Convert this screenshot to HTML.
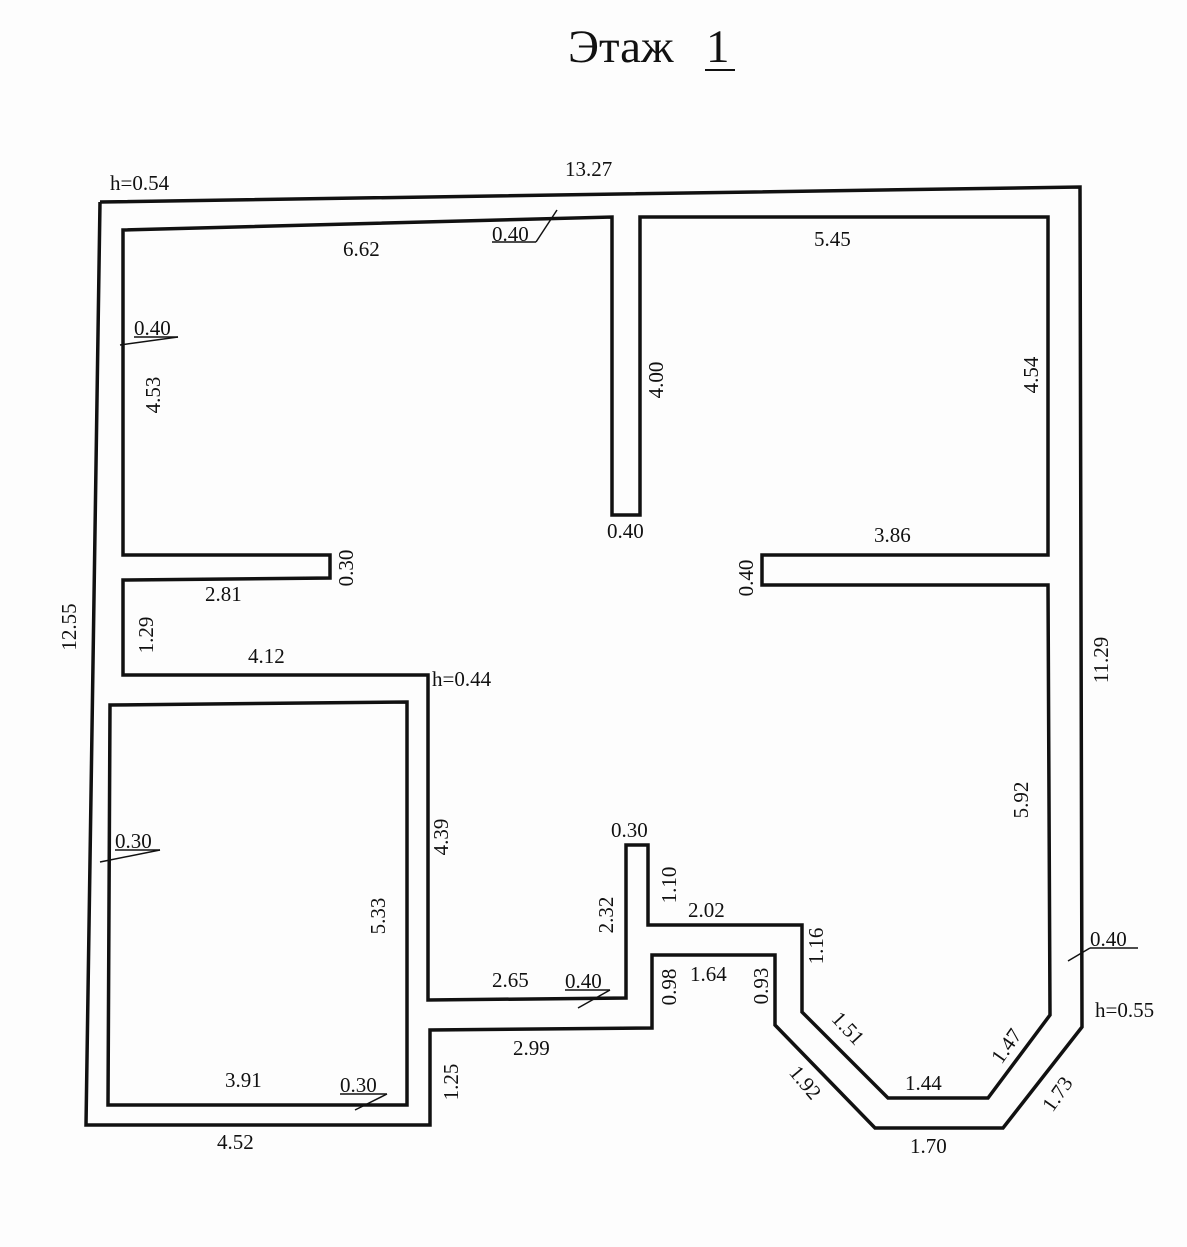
<!DOCTYPE html>
<html><head><meta charset="utf-8"><style>
html,body{margin:0;padding:0;background:#fdfdfd;}
svg{display:block;}
text{font-family:"Liberation Serif",serif;font-size:21px;fill:#111;}
</style></head><body>
<svg width="1187" height="1247" viewBox="0 0 1187 1247" xmlns="http://www.w3.org/2000/svg">
<rect width="1187" height="1247" fill="#fdfdfd"/>
<text x="568" y="62" style="font-size:47px">Этаж</text>
<text x="706" y="62" style="font-size:47px">1</text>
<line x1="705" y1="70" x2="735" y2="70" stroke="#111" stroke-width="2"/>
<g fill="none" stroke="#111" stroke-width="3.5" stroke-linejoin="miter">
<polyline points="100,202 1080,187 1082,1027 1003,1128 875,1128 775,1025 775,955 652,955 652,1028 430,1030 430,1125 86,1125 100,202"/>
<polygon points="123,555 330,555 330,578 123,580 123,675 428,675 428,1000 626,998 626,845 648,845 648,925 802,925 802,1012 888,1098 988,1098 1050,1015 1048,585 762,585 762,555 1048,555 1048,217 640,217 640,515 612,515 612,217 123,230"/>
<polygon points="110,705 407,702 407,1105 108,1105"/>
</g>
<g stroke="#111" stroke-width="1.5" fill="none">
<line x1="492" y1="242" x2="536" y2="242"/><line x1="536" y1="242" x2="557" y2="210"/>
<line x1="134" y1="337" x2="178" y2="337"/><line x1="178" y1="337" x2="120" y2="345"/>
<line x1="115" y1="850" x2="160" y2="850"/><line x1="160" y1="850" x2="100" y2="862"/>
<line x1="340" y1="1094" x2="387" y2="1094"/><line x1="387" y1="1094" x2="355" y2="1110"/>
<line x1="565" y1="990" x2="610" y2="990"/><line x1="610" y1="990" x2="578" y2="1008"/>
<line x1="1090" y1="948" x2="1138" y2="948"/><line x1="1090" y1="948" x2="1068" y2="961"/>
</g>
<text x="110" y="190">h=0.54</text>
<text x="565" y="176">13.27</text>
<text x="343" y="256">6.62</text>
<text x="492" y="241">0.40</text>
<text x="814" y="246">5.45</text>
<text x="134" y="335">0.40</text>
<text x="607" y="538">0.40</text>
<text x="874" y="542">3.86</text>
<text x="205" y="601">2.81</text>
<text x="248" y="663">4.12</text>
<text x="432" y="686">h=0.44</text>
<text x="611" y="837">0.30</text>
<text x="115" y="848">0.30</text>
<text x="688" y="917">2.02</text>
<text x="690" y="981">1.64</text>
<text x="492" y="987">2.65</text>
<text x="565" y="988">0.40</text>
<text x="513" y="1055">2.99</text>
<text x="225" y="1087">3.91</text>
<text x="340" y="1092">0.30</text>
<text x="217" y="1149">4.52</text>
<text x="905" y="1090">1.44</text>
<text x="910" y="1153">1.70</text>
<text x="1090" y="946">0.40</text>
<text x="1095" y="1017">h=0.55</text>
<g>
<text transform="translate(160,395) rotate(-90)" text-anchor="middle">4.53</text>
<text transform="translate(663,380) rotate(-90)" text-anchor="middle">4.00</text>
<text transform="translate(1038,375) rotate(-90)" text-anchor="middle">4.54</text>
<text transform="translate(353,568) rotate(-90)" text-anchor="middle">0.30</text>
<text transform="translate(753,578) rotate(-90)" text-anchor="middle">0.40</text>
<text transform="translate(1108,660) rotate(-90)" text-anchor="middle">11.29</text>
<text transform="translate(76,627) rotate(-90)" text-anchor="middle">12.55</text>
<text transform="translate(153,635) rotate(-90)" text-anchor="middle">1.29</text>
<text transform="translate(448,837) rotate(-90)" text-anchor="middle">4.39</text>
<text transform="translate(385,916) rotate(-90)" text-anchor="middle">5.33</text>
<text transform="translate(613,915) rotate(-90)" text-anchor="middle">2.32</text>
<text transform="translate(676,885) rotate(-90)" text-anchor="middle">1.10</text>
<text transform="translate(823,946) rotate(-90)" text-anchor="middle">1.16</text>
<text transform="translate(676,987) rotate(-90)" text-anchor="middle">0.98</text>
<text transform="translate(768,986) rotate(-90)" text-anchor="middle">0.93</text>
<text transform="translate(458,1082) rotate(-90)" text-anchor="middle">1.25</text>
<text transform="translate(1028,800) rotate(-90)" text-anchor="middle">5.92</text>
<text transform="translate(843,1033) rotate(47)" text-anchor="middle">1.51</text>
<text transform="translate(800,1087) rotate(50)" text-anchor="middle">1.92</text>
<text transform="translate(1012,1050) rotate(-55)" text-anchor="middle">1.47</text>
<text transform="translate(1063,1098) rotate(-55)" text-anchor="middle">1.73</text>
</g>
</svg>
</body></html>
